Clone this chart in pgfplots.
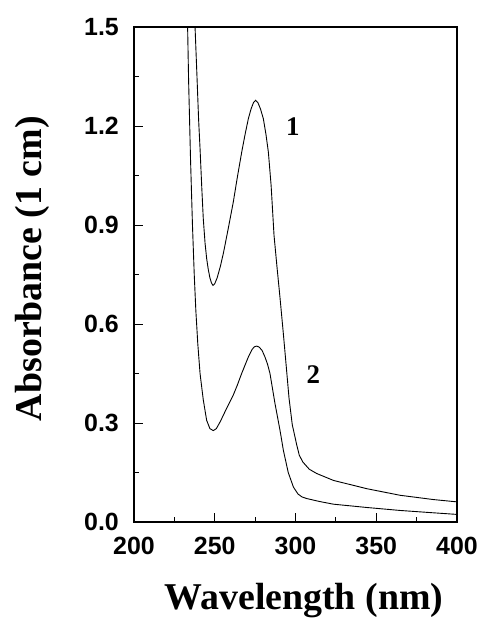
\documentclass[border=0pt]{standalone}
\usepackage{fontspec}
\setmainfont{Liberation Serif}
\setsansfont{Liberation Sans}
\usepackage{pgfplots}
\pgfplotsset{compat=1.18}
\begin{document}
\begin{tikzpicture}
\path[use as bounding box] (-134bp,-97bp) rectangle (344bp,522bp);
\begin{axis}[
  scale only axis,
  width=323bp, height=495bp,
  xmin=200, xmax=400, ymin=0, ymax=1.5,
  xtick={200,250,300,350,400},
  ytick={0,0.3,0.6,0.9,1.2,1.5},
  minor x tick num=1, minor y tick num=1,
  tick align=inside,
  xtick pos=bottom, ytick pos=left,
  major tick length=9bp, minor tick length=5bp,
  axis line style={line width=1.1bp},
  every tick/.style={line width=0.9bp, black},
  /pgf/number format/assume math mode=true,
  yticklabel style={/pgf/number format/fixed,/pgf/number format/precision=1,/pgf/number format/fixed zerofill, inner sep=0pt, xshift=-15bp},
  xticklabel style={inner sep=0pt, yshift=-15bp},
  ticklabel style={font=\sffamily\bfseries\fontsize{25}{25}\selectfont},
  xlabel={Wavelength (nm)},
  ylabel={Absorbance (1 cm)},
  label style={font=\rmfamily\bfseries\fontsize{38}{38}\selectfont},
  x label style={at={(axis description cs:0.526,0)}, anchor=base, yshift=-87bp},
  y label style={at={(axis description cs:0,0.512)}, anchor=base, yshift=92bp},
  clip=true,
]
\addplot[black, line width=0.9bp] coordinates {
(236.8,1.65) (237.8,1.50) (239.0,1.35) (240.0,1.22) (240.9,1.131) (242.0,1.01)
(242.9,0.919) (244.0,0.845) (245.0,0.798) (246.0,0.765) (247.0,0.740) (248.0,0.724)
(248.9,0.717) (250.0,0.722) (251.5,0.740) (253.5,0.775) (255.5,0.818) (258.5,0.893)
(261.5,0.970) (264.0,1.045) (266.7,1.121) (268.8,1.175) (270.8,1.222) (272.5,1.252)
(274.0,1.271) (275.3,1.278) (276.7,1.271) (278.3,1.252) (280.1,1.222) (281.7,1.175)
(283.2,1.121) (284.9,1.020) (286.7,0.869) (288.5,0.775) (290.4,0.680) (292.4,0.575)
(294.3,0.47) (296.0,0.375) (298.0,0.295) (300.7,0.235) (302.3,0.203) (304.5,0.182)
(308.5,0.160) (313.1,0.147) (323.5,0.126) (344.1,0.101) (364.7,0.081) (385.4,0.068)
(400,0.061)
};
\addplot[black, line width=0.9bp] coordinates {
(232.6,1.65) (233.2,1.50) (233.8,1.34) (235.0,1.10) (236.2,0.90) (237.3,0.75)
(238.3,0.64) (239.5,0.54) (240.9,0.45) (242.9,0.37) (245.0,0.308) (247.0,0.283)
(249.1,0.277) (251.0,0.283) (253.5,0.305) (257.4,0.345) (261.5,0.385) (264.0,0.415)
(266.5,0.448) (268.8,0.476) (270.8,0.50) (273.0,0.522) (274.5,0.531) (276.0,0.533)
(277.5,0.530) (279.3,0.52) (281.1,0.50) (282.7,0.478) (284.2,0.450) (287.3,0.359)
(290.4,0.278) (292.5,0.217) (295.5,0.15) (298.7,0.106) (301.5,0.085) (304.0,0.076)
(307.0,0.071) (315.0,0.062) (323.5,0.054) (344.1,0.044) (364.7,0.035) (385.0,0.028)
(400,0.023)
};
\node[font=\rmfamily\bfseries\fontsize{27}{27}\selectfont] at (axis cs:298.3,1.197) {1};
\node[font=\rmfamily\bfseries\fontsize{27}{27}\selectfont] at (axis cs:311.0,0.448) {2};
\end{axis}
\end{tikzpicture}
\end{document}
